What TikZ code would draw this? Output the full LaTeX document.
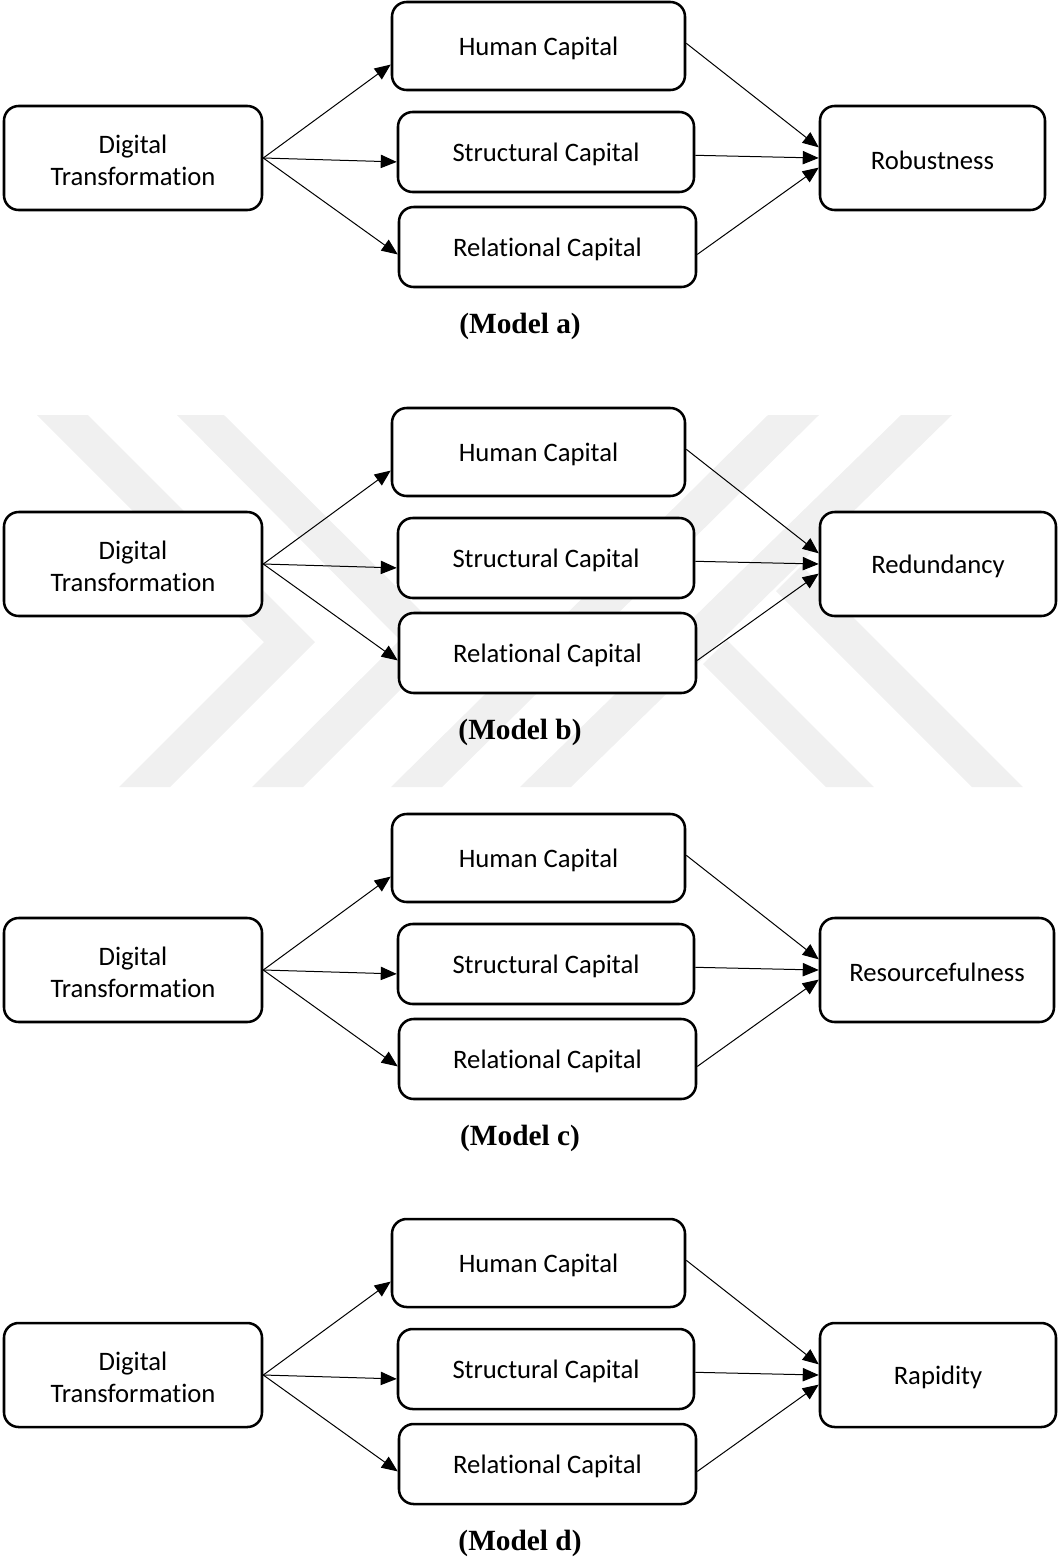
\documentclass[tikz,border=0pt]{standalone}
\usepackage{fontspec}
\setmainfont{Carlito}[Ligatures=NoCommon]
\newfontfamily\capfont{Liberation Serif}
\usetikzlibrary{arrows.meta,fit,calc}

\tikzset{
  box/.style={draw, line width=1.9pt, rounded corners=11pt, fill=white, inner sep=0pt},
  boxtext/.style={align=center, inner sep=0pt, yshift=-1.5pt, font=\fontsize{20}{24}\selectfont},
  link/.style={line width=0.75pt, -{Triangle[length=12pt,width=10pt]}},
  caption/.style={font=\capfont\bfseries\fontsize{22}{26}\selectfont},
  wmark/.style={fill=black!6, draw=none}
}

% A rounded box spanning two corners, with its text centred in it
% #1 name, #2 top-left corner, #3 bottom-right corner, #4 text
\newcommand\boxat[4]{%
  \node[box, fit={#2 #3}] (#1) {};
  \node[boxtext] (#1-t) at (#1.center) {#4};
}

% One path model: Digital Transformation -> three capitals -> outcome
% #1 vertical offset, #2 tag, #3 outcome label, #4 right edge of outcome box
\newcommand\capitalmodel[4]{%
  \boxat{dt#2}{(4,{106+#1})}{(262,{210+#1})}{Digital\\Transformation}
  \boxat{hum#2}{(392,{2+#1})}{(685,{90+#1})}{Human Capital}
  \boxat{str#2}{(398,{112+#1})}{(694,{192+#1})}{Structural Capital}
  \boxat{rel#2}{(399,{207+#1})}{(696,{287+#1})}{Relational Capital}
  \boxat{out#2}{(820,{106+#1})}{(#4,{210+#1})}{#3}
  \draw[link] (dt#2.east) -- ($(hum#2.north west)!0.705!(hum#2.south west)$);
  \draw[link] (dt#2.east) -- ($(str#2.north west)!0.62!(str#2.south west)$);
  \draw[link] (dt#2.east) -- ($(rel#2.north west)!0.59!(rel#2.south west)$);
  \draw[link] ($(hum#2.north east)!0.47!(hum#2.south east)$) -- ($(out#2.north west)!0.40!(out#2.south west)$);
  \draw[link] ($(str#2.north east)!0.54!(str#2.south east)$) -- (out#2.west);
  \draw[link] ($(rel#2.north east)!0.59!(rel#2.south east)$) -- ($(out#2.north west)!0.59!(out#2.south west)$);
  \node[caption] (cap#2) at (520,{326+#1}) {(Model #2)};
}

\begin{document}
\begin{tikzpicture}[x=0.75pt,y=-0.75pt]
  \useasboundingbox (0,0) rectangle (1062,1557);

  % light grey background mark behind the second model
  \fill[wmark] (37,415) -- (88,415) -- (315,642) -- (170,787) -- (119,787) -- (264,642) -- cycle;
  \fill[wmark] (177,415) -- (224,415) -- (450,640) -- (303,787) -- (252,787) -- (400,640) -- cycle;
  \fill[wmark] (768,415) -- (819,415) -- (442,787) -- (391,787) -- cycle;
  \fill[wmark] (901,415) -- (952,415) -- (571,787) -- (520,787) -- cycle;
  \fill[wmark] (826,787) -- (874,787) -- (727,640) -- (703,664) -- cycle;
  \fill[wmark] (972,787) -- (1023,787) -- (801.5,565.5) -- (776,591) -- cycle;

  \capitalmodel{0}{a}{Robustness}{1045}
  \capitalmodel{406}{b}{Redundancy}{1056}
  \capitalmodel{812}{c}{Resourcefulness}{1054}
  \capitalmodel{1217}{d}{Rapidity}{1056}
\end{tikzpicture}
\end{document}
